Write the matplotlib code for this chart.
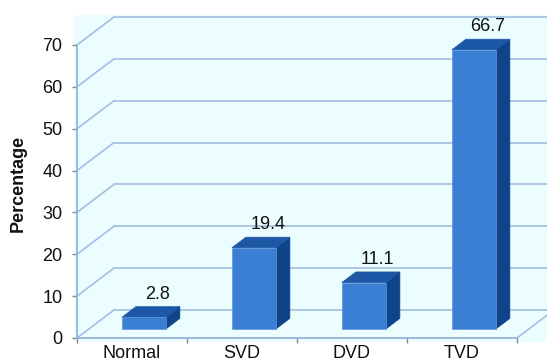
import matplotlib
matplotlib.use("Agg")
import matplotlib.pyplot as plt
from matplotlib.patches import Polygon, Rectangle

# Data
categories = ["Normal", "SVD", "DVD", "TVD"]
percentages = [2.8, 19.4, 11.1, 66.7]
y_ticks = [0, 10, 20, 30, 40, 50, 60, 70]
y_label = "Percentage"

plt.rcParams["font.family"] = ["Liberation Sans", "DejaVu Sans"]
plt.rcParams["font.size"] = 13

W, H, DPI = 547, 363, 100
fig = plt.figure(figsize=(W / DPI, H / DPI), dpi=DPI)
fig.patch.set_facecolor("white")

# Light cyan plot-area background (behind the axes)
fig.patches.append(Rectangle((74 / W, 21 / H), 1 - 74 / W, (348 - 21) / H,
                             transform=fig.transFigure, facecolor="#ECFDFF",
                             edgecolor="none", zorder=-5))

ax = fig.add_axes([77 / W, 25 / H, 440 / W, 293 / H])
ax.set_facecolor("none")
ax.set_xlim(-0.5, len(categories) - 0.5)
ax.set_ylim(0, 70)

GRID = "#A2BEE2"
SPINE = "#94B4DC"

# Oblique depth vector (data units) for the pseudo-3D look
DX, DY = 0.336, 6.69
x0, x1 = -0.5, len(categories) - 0.5

# Back wall gridlines with their diagonal run-in from the front axis
for v in y_ticks:
    ax.plot([x0, x0 + DX], [v, v + DY], color=GRID, lw=1.2, clip_on=False, zorder=1)
    ax.plot([x0 + DX, x1 + DX + 0.5], [v + DY, v + DY], color=GRID, lw=1.2,
            clip_on=False, zorder=1)
# Right edge of the floor
ax.plot([x1, x1 + DX], [0, DY], color=GRID, lw=1.2, clip_on=False, zorder=1)

# Bars as oblique boxes
D0, DB = 0.32, 0.38   # front-face depth and bar thickness (fractions of full depth)
BW = 0.4
FRONT, SIDE, TOP = "#3A7FD3", "#0F4489", "#1D58A6"
for i, v in enumerate(percentages):
    xl = i - BW / 2 + D0 * DX
    xr = i + BW / 2 + D0 * DX
    yb = D0 * DY
    yt = v + D0 * DY
    ddx, ddy = DB * DX, DB * DY
    ax.add_patch(Polygon([(xr, yb), (xr + ddx, yb + ddy), (xr + ddx, yt + ddy), (xr, yt)],
                         closed=True, facecolor=SIDE, edgecolor=SIDE, lw=0.5,
                         clip_on=False, zorder=3))
    ax.add_patch(Polygon([(xl, yt), (xr, yt), (xr + ddx, yt + ddy), (xl + ddx, yt + ddy)],
                         closed=True, facecolor=TOP, edgecolor=TOP, lw=0.5,
                         clip_on=False, zorder=3))
    ax.add_patch(Polygon([(xl, yb), (xr, yb), (xr, yt), (xl, yt)],
                         closed=True, facecolor=FRONT, edgecolor="#5C95DA", lw=0.5,
                         clip_on=False, zorder=4))
    ax.text(i + D0 * DX + 0.127, yt + 4.4, f"{v}", ha="center", va="baseline",
            fontsize=13, color="#111111", clip_on=False, zorder=5)

# Axes styling
for side in ("top", "right"):
    ax.spines[side].set_visible(False)
for side in ("left", "bottom"):
    ax.spines[side].set_color(SPINE)
    ax.spines[side].set_linewidth(1.3)
    ax.spines[side].set_zorder(2)

ax.set_yticks(y_ticks)
ax.set_yticklabels([str(t) for t in y_ticks])
ax.tick_params(axis="y", direction="out", length=3.6, width=1, color="#888888",
               pad=7, labelsize=13, labelcolor="#111111")

ax.set_xticks(range(len(categories)))
ax.set_xticklabels(categories)
ax.set_xticks([k - 0.5 for k in range(len(categories) + 1)], minor=True)
ax.tick_params(axis="x", which="major", length=0, pad=5, labelsize=13,
               labelcolor="#111111")
ax.tick_params(axis="x", which="minor", direction="out", length=3.6, width=1,
               color="#888888")

fig.text(18 / W, 1 - 183 / H, y_label, rotation=90, ha="center", va="center",
         fontsize=13, fontweight="bold", color="#111111")

fig.savefig("out.png", dpi=DPI)
